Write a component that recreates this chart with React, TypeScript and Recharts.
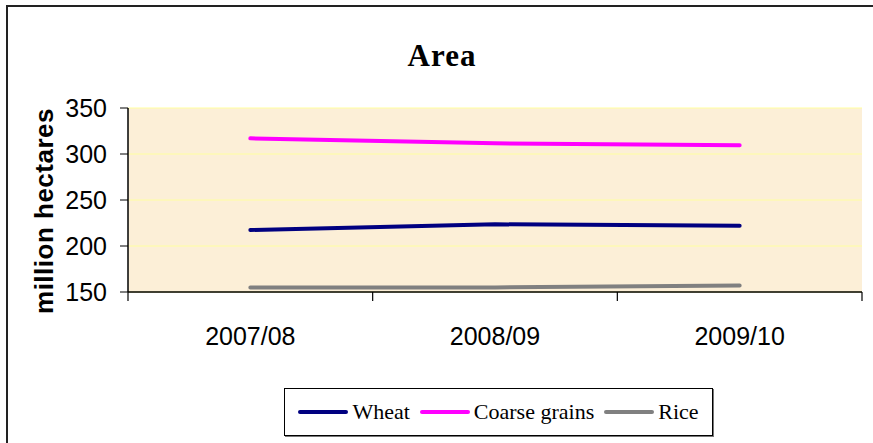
import { LineChart, Line, XAxis, YAxis, CartesianGrid } from "recharts";

// harvested area, million hectares
const seasons = ["2007/08", "2008/09", "2009/10"];
const wheat = [217.4, 223.6, 222];
const coarseGrains = [317, 311.6, 309.5];
const rice = [154.8, 155, 157];
const yTicks = [150, 200, 250, 300, 350];

const series = [
  { key: "Wheat", values: wheat, color: "#000080" },
  { key: "Coarse grains", values: coarseGrains, color: "#FF00FF" },
  { key: "Rice", values: rice, color: "#808080" },
];

const data = seasons.map((season, i) => {
  const row: Record<string, string | number> = { season };
  series.forEach((s) => {
    row[s.key] = s.values[i];
  });
  return row;
});

const W = 873;
const H = 443;
const MARGIN = { top: 108, right: 11, left: 0, bottom: 111 };
const Y_AXIS_W = 128;
const X_AXIS_H = 40;
const PLOT_W = W - MARGIN.left - MARGIN.right - Y_AXIS_W;
const BAND = PLOT_W / seasons.length;

const sans = "'Liberation Sans', Arial, sans-serif";
const serif = "'Liberation Serif', 'Times New Roman', serif";

// category label at the band centre, tick marks on the band edges
function SeasonTick(props: any) {
  const { x, y, payload, index } = props;
  const last = index === seasons.length - 1;
  return (
    <g>
      <line x1={x - BAND / 2} x2={x - BAND / 2} y1={y} y2={y + 9} stroke="#000" strokeWidth={1.2} />
      {last && <line x1={x + BAND / 2} x2={x + BAND / 2} y1={y} y2={y + 9} stroke="#000" strokeWidth={1.2} />}
      <text x={x} y={y + 53} textAnchor="middle" fontFamily={sans} fontSize={25} fill="#000">
        {payload.value}
      </text>
    </g>
  );
}

export default function App() {
  return (
    <div
      style={{
        position: "absolute",
        left: 0,
        top: 0,
        width: W,
        height: H,
        overflow: "hidden",
        background: "#fff",
      }}
    >
      <div
        style={{
          position: "absolute",
          left: 6,
          top: 5,
          width: W + 20,
          height: H + 20,
          border: "2px solid #222",
          boxSizing: "border-box",
        }}
      />
      <div
        style={{
          position: "absolute",
          left: 342,
          top: 40,
          width: 200,
          textAlign: "center",
          fontFamily: serif,
          fontWeight: "bold",
          fontSize: 31,
          lineHeight: "31px",
          letterSpacing: 1,
        }}
      >
        Area
      </div>
      <div style={{ position: "absolute", left: 0, top: 0 }}>
        <LineChart width={W} height={H} data={data} margin={MARGIN}>
          <CartesianGrid vertical={false} fill="#FCEFD7" fillOpacity={1} stroke="#FFFFA0" strokeWidth={1} />
          <XAxis
            dataKey="season"
            height={X_AXIS_H}
            padding={{ left: BAND / 2, right: BAND / 2 }}
            axisLine={{ stroke: "#000", strokeWidth: 1.5 }}
            tickLine={false}
            tickSize={0}
            tickMargin={0}
            tick={<SeasonTick />}
            interval={0}
          />
          <XAxis xAxisId="top" orientation="top" dataKey="season" height={0} tick={false} tickLine={false} axisLine={{ stroke: "#8C8C8C", strokeWidth: 2 }} />
          <YAxis
            width={Y_AXIS_W}
            domain={[150, 350]}
            ticks={yTicks}
            interval={0}
            axisLine={{ stroke: "#000", strokeWidth: 1.5 }}
            tickLine={{ stroke: "#000" }}
            tickSize={8}
            tickMargin={13}
            tick={{ fill: "#000", fontSize: 25, fontFamily: sans }}
            label={{
              content: () => (
                <text
                  transform="translate(53,211) rotate(-90)"
                  textAnchor="middle"
                  fontFamily={sans}
                  fontWeight="bold"
                  fontSize={26}
                  letterSpacing={0.5}
                  fill="#000"
                >
                  million hectares
                </text>
              ),
            }}
          />
          <YAxis yAxisId="right" orientation="right" width={0} domain={[150, 350]} tick={false} tickLine={false} axisLine={{ stroke: "#8C8C8C", strokeWidth: 2 }} />
          {series.map((s) => (
            <Line
              key={s.key}
              dataKey={s.key}
              type="linear"
              stroke={s.color}
              strokeWidth={4}
              strokeLinecap="round"
              dot={false}
              activeDot={false}
              isAnimationActive={false}
            />
          ))}
        </LineChart>
      </div>
      <div
        style={{
          position: "absolute",
          left: 284,
          top: 388,
          width: 429,
          height: 48,
          boxSizing: "border-box",
          border: "1px solid #000",
          boxShadow: "1px 1px 0 #777",
          background: "#fff",
          display: "flex",
          alignItems: "center",
          justifyContent: "center",
          gap: 10,
          fontFamily: serif,
          fontSize: 22,
        }}
      >
        {series.map((s) => (
          <div key={s.key} style={{ display: "flex", alignItems: "center" }}>
            <div style={{ width: 50, height: 4, borderRadius: 2, background: s.color, marginRight: 4 }} />
            <span>{s.key}</span>
          </div>
        ))}
      </div>
    </div>
  );
}
